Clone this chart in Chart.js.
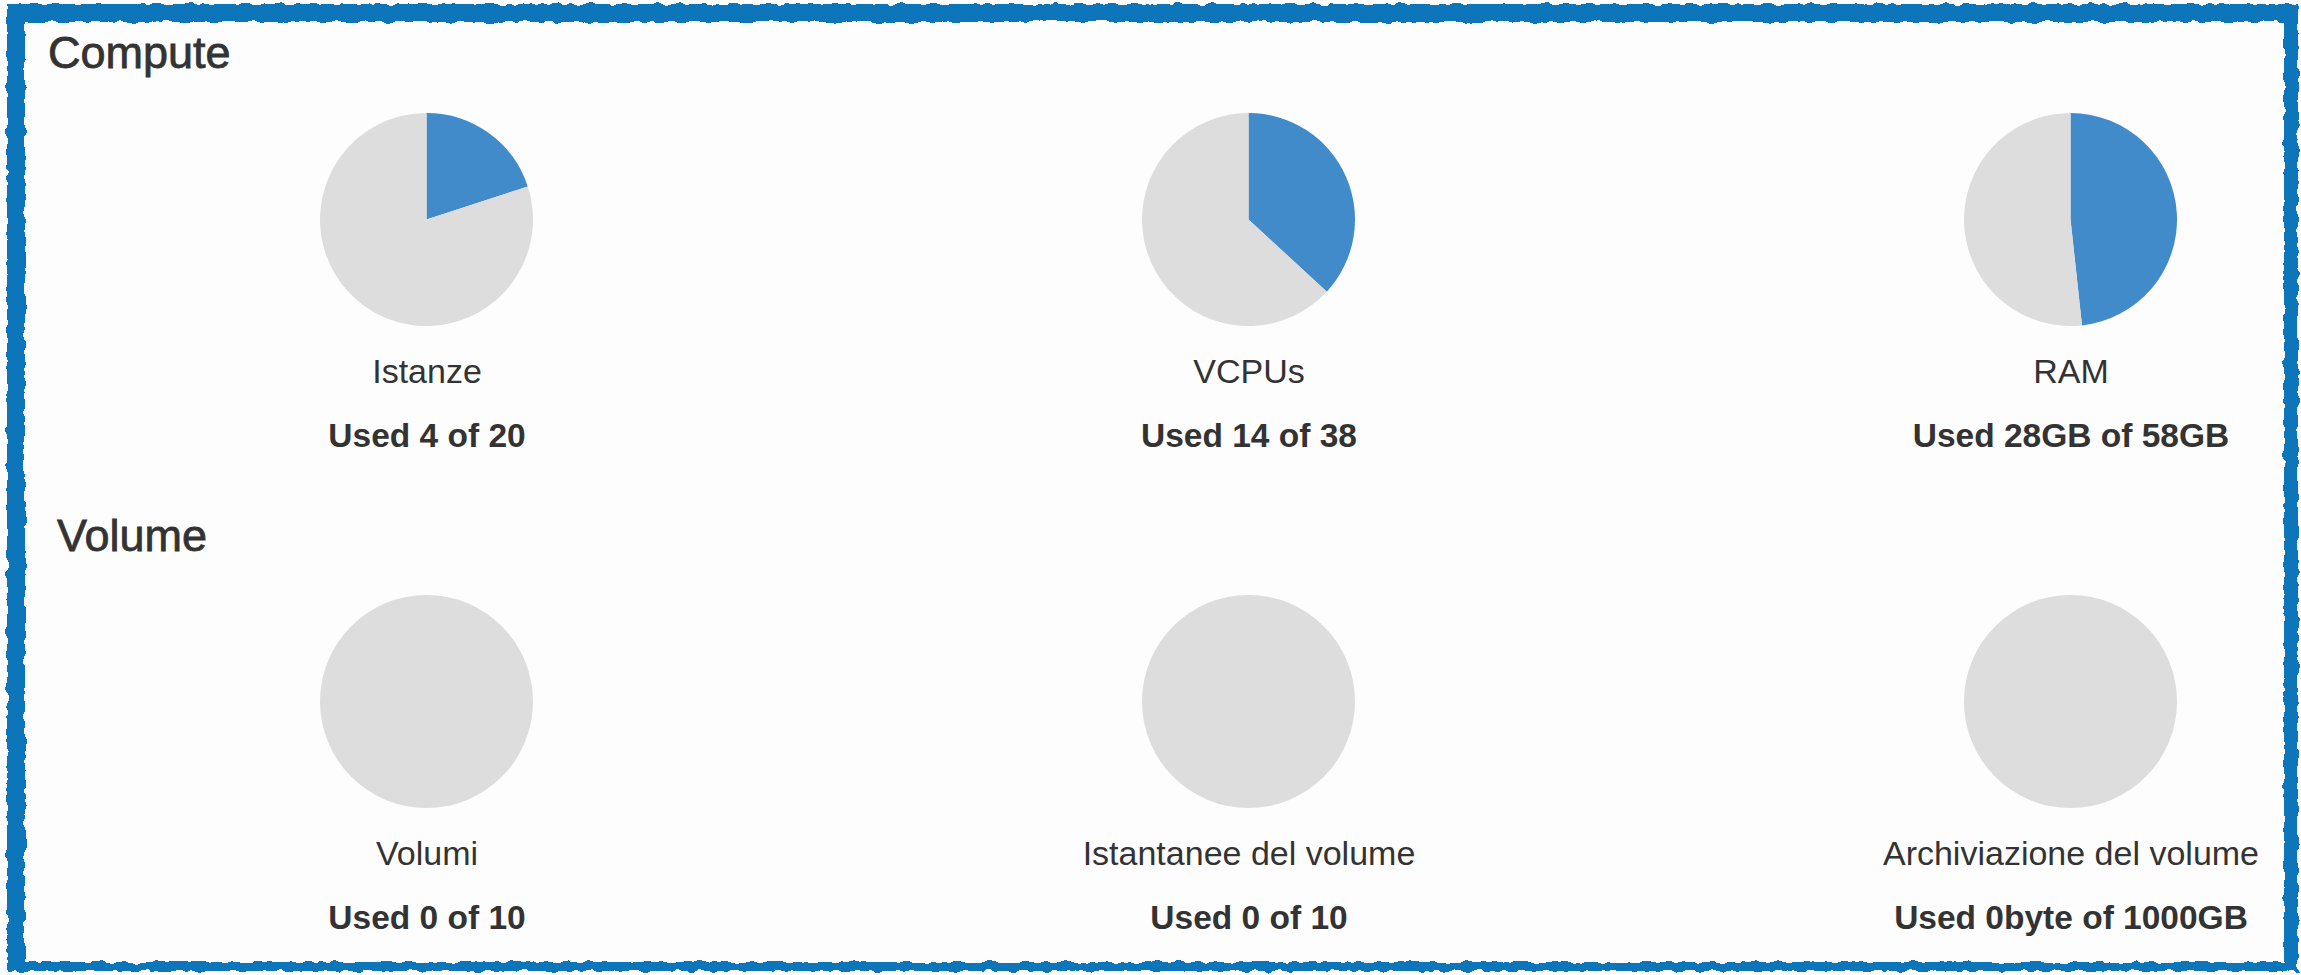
<!DOCTYPE html>
<html>
<head>
<meta charset="utf-8">
<script src="https://cdn.jsdelivr.net/npm/chart.js@4/dist/chart.umd.min.js"></script>
<style>
    html, body { margin: 0; padding: 0; }
    body {
        width: 2301px; height: 975px; overflow: hidden; position: relative;
        background: #ffffff; font-family: "Liberation Sans", Arial, sans-serif; color: #333333;
    }
    #frame {
        position: absolute; left: 7px; top: 4px; right: 3px; bottom: 4px;
        border-style: solid; border-color: #0b74ba;
        border-width: 18px 14px 9px 18px;
        background: #fdfdfd;
        filter: url(#rough);
    }
    .heading {
        position: absolute; font-size: 45px; line-height: 52px; white-space: nowrap;
        -webkit-text-stroke: 0.8px #333333;
    }
    .quota { position: absolute; width: 460px; height: 340px; text-align: center; }
    .pie { position: absolute; left: 123px; top: 0; width: 213px; height: 213px; }
    .label { position: absolute; left: 0; right: 0; top: 238px; font-size: 34px; line-height: 40px; white-space: nowrap; }
    .used { position: absolute; left: 0; right: 0; top: 303px; font-size: 33.5px; line-height: 40px; font-weight: bold; white-space: nowrap; }
</style>
</head>
<body>
<svg width="0" height="0" style="position:absolute">
    <filter id="rough">
        <feTurbulence type="fractalNoise" baseFrequency="0.09" numOctaves="2" seed="3"/>
        <feDisplacementMap in="SourceGraphic" scale="7"/>
    </filter>
</svg>
<div id="frame"></div>
<div class="heading" style="left:48px; top:27px">Compute</div>
<div class="heading" style="left:57px; top:510px">Volume</div>

<script>
// quota data
var sections = ['Compute', 'Volume'];
var labels = [
    ['Istanze', 'VCPUs', 'RAM'],
    ['Volumi', 'Istantanee del volume', 'Archiviazione del volume']
];
var used = [
    [4, 14, 28],
    [0, 0, 0]
];
var totals = [
    [20, 38, 58],
    [10, 10, 1000]
];
var usedText = [
    ['Used 4 of 20', 'Used 14 of 38', 'Used 28GB of 58GB'],
    ['Used 0 of 10', 'Used 0 of 10', 'Used 0byte of 1000GB']
];

var usedColor = '#428bca';
var freeColor = '#dddddd';
var rowTop = [113, 595];

for (let r = 0; r < sections.length; r++) {
    for (let c = 0; c < labels[r].length; c++) {
        var box = document.createElement('div');
        box.className = 'quota';
        box.style.left = (197 + c * 822) + 'px';
        box.style.top = rowTop[r] + 'px';

        var wrap = document.createElement('div');
        wrap.className = 'pie';
        var canvas = document.createElement('canvas');
        wrap.appendChild(canvas);
        box.appendChild(wrap);

        var lab = document.createElement('div');
        lab.className = 'label';
        lab.textContent = labels[r][c];
        box.appendChild(lab);

        var u = document.createElement('div');
        u.className = 'used';
        u.textContent = usedText[r][c];
        box.appendChild(u);

        document.body.appendChild(box);

        new Chart(canvas, {
            type: 'pie',
            data: {
                labels: ['Used', 'Free'],
                datasets: [{
                    data: [used[r][c], totals[r][c] - used[r][c]],
                    backgroundColor: [usedColor, freeColor],
                    borderWidth: 0
                }]
            },
            options: {
                responsive: true,
                maintainAspectRatio: false,
                animation: false,
                events: [],
                layout: { padding: 0 },
                plugins: {
                    legend: { display: false },
                    tooltip: { enabled: false }
                }
            }
        });
    }
}
</script>
</body>
</html>
